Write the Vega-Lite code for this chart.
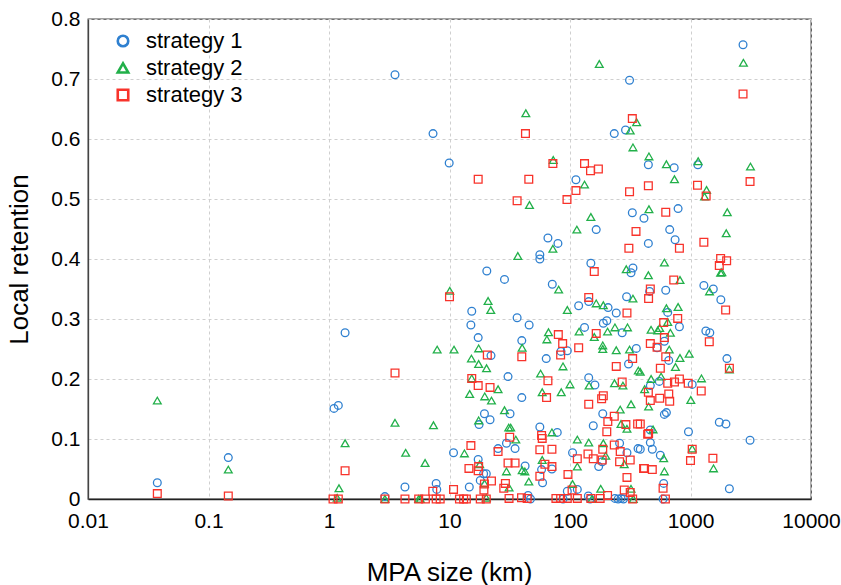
{
  "$schema": "https://vega.github.io/schema/vega-lite/v6.json",
  "autosize": {"type": "none"},
  "padding": {"left": 88, "top": 19, "right": 30, "bottom": 86},
  "width": 723,
  "height": 480,
  "background": "white",
  "config": {
    "font": "Liberation Sans",
    "view": {"stroke": "#444", "strokeWidth": 1.3}
  },
  "datasets": {
    "pts": [
      {"s":"strategy 1","x":0.0376,"y":0.027},{"s":"strategy 1","x":0.146,"y":0.069},{"s":"strategy 1","x":1.10,"y":0.151},{"s":"strategy 1","x":1.195,"y":0.156},{"s":"strategy 1","x":1.36,"y":0.277},{"s":"strategy 1","x":2.91,"y":0.004},{"s":"strategy 1","x":3.53,"y":0.707},{"s":"strategy 1","x":4.27,"y":0.020},{"s":"strategy 1","x":7.3,"y":0.609},{"s":"strategy 1","x":7.75,"y":0.026},{"s":"strategy 1","x":7.84,"y":0.016},{"s":"strategy 1","x":9.94,"y":0.560},{"s":"strategy 1","x":10.8,"y":0.077},{"s":"strategy 1","x":14.6,"y":0.020},{"s":"strategy 1","x":15.3,"y":0.313},{"s":"strategy 1","x":15.05,"y":0.290},{"s":"strategy 1","x":20.4,"y":0.380},{"s":"strategy 1","x":17.3,"y":0.269},{"s":"strategy 1","x":22.1,"y":0.239},{"s":"strategy 1","x":19.5,"y":0.142},{"s":"strategy 1","x":21.7,"y":0.132},{"s":"strategy 1","x":17.6,"y":0.124},{"s":"strategy 1","x":17.3,"y":0.066},{"s":"strategy 1","x":19.2,"y":0.042},{"s":"strategy 1","x":20.2,"y":0.042},{"s":"strategy 1","x":18.0,"y":0.031},{"s":"strategy 1","x":25.3,"y":0.084},{"s":"strategy 1","x":312,"y":0.698},{"s":"strategy 1","x":289,"y":0.615},{"s":"strategy 1","x":233,"y":0.609},{"s":"strategy 1","x":447,"y":0.557},{"s":"strategy 1","x":112,"y":0.532},{"s":"strategy 1","x":329,"y":0.477},{"s":"strategy 1","x":411,"y":0.468},{"s":"strategy 1","x":165,"y":0.449},{"s":"strategy 1","x":65.6,"y":0.435},{"s":"strategy 1","x":79.4,"y":0.426},{"s":"strategy 1","x":447,"y":0.426},{"s":"strategy 1","x":56.2,"y":0.407},{"s":"strategy 1","x":56.2,"y":0.400},{"s":"strategy 1","x":149,"y":0.393},{"s":"strategy 1","x":333,"y":0.385},{"s":"strategy 1","x":321,"y":0.377},{"s":"strategy 1","x":28.6,"y":0.366},{"s":"strategy 1","x":71.3,"y":0.358},{"s":"strategy 1","x":143,"y":0.329},{"s":"strategy 1","x":207,"y":0.319},{"s":"strategy 1","x":242,"y":0.310},{"s":"strategy 1","x":295,"y":0.337},{"s":"strategy 1","x":36.4,"y":0.302},{"s":"strategy 1","x":45.8,"y":0.290},{"s":"strategy 1","x":118,"y":0.322},{"s":"strategy 1","x":132,"y":0.286},{"s":"strategy 1","x":189,"y":0.293},{"s":"strategy 1","x":202,"y":0.297},{"s":"strategy 1","x":271,"y":0.277},{"s":"strategy 1","x":39.8,"y":0.264},{"s":"strategy 1","x":355,"y":0.251},{"s":"strategy 1","x":95,"y":0.247},{"s":"strategy 1","x":84.1,"y":0.246},{"s":"strategy 1","x":63.5,"y":0.234},{"s":"strategy 1","x":306,"y":0.225},{"s":"strategy 1","x":30.6,"y":0.204},{"s":"strategy 1","x":143,"y":0.202},{"s":"strategy 1","x":161,"y":0.190},{"s":"strategy 1","x":39.8,"y":0.169},{"s":"strategy 1","x":31.8,"y":0.142},{"s":"strategy 1","x":187,"y":0.142},{"s":"strategy 1","x":156,"y":0.122},{"s":"strategy 1","x":56.2,"y":0.120},{"s":"strategy 1","x":78.4,"y":0.111},{"s":"strategy 1","x":29.7,"y":0.093},{"s":"strategy 1","x":35.0,"y":0.084},{"s":"strategy 1","x":258,"y":0.093},{"s":"strategy 1","x":297,"y":0.077},{"s":"strategy 1","x":367,"y":0.084},{"s":"strategy 1","x":105,"y":0.077},{"s":"strategy 1","x":185,"y":0.062},{"s":"strategy 1","x":42.4,"y":0.055},{"s":"strategy 1","x":70.8,"y":0.050},{"s":"strategy 1","x":173,"y":0.054},{"s":"strategy 1","x":58.1,"y":0.049},{"s":"strategy 1","x":59.2,"y":0.027},{"s":"strategy 1","x":115,"y":0.016},{"s":"strategy 1","x":95,"y":0.013},{"s":"strategy 1","x":236,"y":0.001},{"s":"strategy 1","x":265,"y":0.001},{"s":"strategy 1","x":44.9,"y":0.006},{"s":"strategy 1","x":142,"y":0.005},{"s":"strategy 1","x":2729,"y":0.757},{"s":"strategy 1","x":1151,"y":0.557},{"s":"strategy 1","x":732,"y":0.552},{"s":"strategy 1","x":789,"y":0.484},{"s":"strategy 1","x":672,"y":0.449},{"s":"strategy 1","x":745,"y":0.432},{"s":"strategy 1","x":1291,"y":0.356},{"s":"strategy 1","x":1546,"y":0.350},{"s":"strategy 1","x":458,"y":0.346},{"s":"strategy 1","x":623,"y":0.348},{"s":"strategy 1","x":1786,"y":0.332},{"s":"strategy 1","x":647,"y":0.311},{"s":"strategy 1","x":809,"y":0.287},{"s":"strategy 1","x":607,"y":0.263},{"s":"strategy 1","x":1341,"y":0.280},{"s":"strategy 1","x":1446,"y":0.277},{"s":"strategy 1","x":528,"y":0.252},{"s":"strategy 1","x":660,"y":0.231},{"s":"strategy 1","x":2006,"y":0.234},{"s":"strategy 1","x":551,"y":0.196},{"s":"strategy 1","x":464,"y":0.189},{"s":"strategy 1","x":1033,"y":0.191},{"s":"strategy 1","x":607,"y":0.141},{"s":"strategy 1","x":631,"y":0.144},{"s":"strategy 1","x":1734,"y":0.128},{"s":"strategy 1","x":1968,"y":0.125},{"s":"strategy 1","x":464,"y":0.115},{"s":"strategy 1","x":962,"y":0.112},{"s":"strategy 1","x":3120,"y":0.098},{"s":"strategy 1","x":464,"y":0.094},{"s":"strategy 1","x":482,"y":0.083},{"s":"strategy 1","x":383,"y":0.083},{"s":"strategy 1","x":562,"y":0.073},{"s":"strategy 1","x":599,"y":0.026},{"s":"strategy 1","x":2102,"y":0.017},{"s":"strategy 1","x":592,"y":0.0},{"s":"strategy 1","x":47,"y":0.0},{"s":"strategy 1","x":87.5,"y":0.0},{"s":"strategy 1","x":147,"y":0.0},{"s":"strategy 1","x":251,"y":0.0},{"s":"strategy 1","x":278,"y":0.0},
      {"s":"strategy 2","x":0.0376,"y":0.164},{"s":"strategy 2","x":0.146,"y":0.049},{"s":"strategy 2","x":1.36,"y":0.093},{"s":"strategy 2","x":1.21,"y":0.018},{"s":"strategy 2","x":1.17,"y":0.002},{"s":"strategy 2","x":3.53,"y":0.127},{"s":"strategy 2","x":2.91,"y":0.0},{"s":"strategy 2","x":4.33,"y":0.077},{"s":"strategy 2","x":6.27,"y":0.060},{"s":"strategy 2","x":5.55,"y":0.0},{"s":"strategy 2","x":5.73,"y":0.0},{"s":"strategy 2","x":7.36,"y":0.123},{"s":"strategy 2","x":7.9,"y":0.249},{"s":"strategy 2","x":10.06,"y":0.347},{"s":"strategy 2","x":10.9,"y":0.249},{"s":"strategy 2","x":13.3,"y":0.076},{"s":"strategy 2","x":14.7,"y":0.175},{"s":"strategy 2","x":15.3,"y":0.201},{"s":"strategy 2","x":19.6,"y":0.171},{"s":"strategy 2","x":22.3,"y":0.164},{"s":"strategy 2","x":25.3,"y":0.183},{"s":"strategy 2","x":20.9,"y":0.330},{"s":"strategy 2","x":22.0,"y":0.315},{"s":"strategy 2","x":17.45,"y":0.251},{"s":"strategy 2","x":15.2,"y":0.234},{"s":"strategy 2","x":17.45,"y":0.225},{"s":"strategy 2","x":20.3,"y":0.218},{"s":"strategy 2","x":17.45,"y":0.131},{"s":"strategy 2","x":17.8,"y":0.058},{"s":"strategy 2","x":19.5,"y":0.026},{"s":"strategy 2","x":20.2,"y":0.002},{"s":"strategy 2","x":175,"y":0.725},{"s":"strategy 2","x":43,"y":0.643},{"s":"strategy 2","x":357,"y":0.628},{"s":"strategy 2","x":316,"y":0.614},{"s":"strategy 2","x":333,"y":0.586},{"s":"strategy 2","x":452,"y":0.571},{"s":"strategy 2","x":72.6,"y":0.565},{"s":"strategy 2","x":132,"y":0.524},{"s":"strategy 2","x":46.1,"y":0.490},{"s":"strategy 2","x":452,"y":0.483},{"s":"strategy 2","x":149,"y":0.470},{"s":"strategy 2","x":114,"y":0.449},{"s":"strategy 2","x":72.1,"y":0.417},{"s":"strategy 2","x":36.9,"y":0.405},{"s":"strategy 2","x":293,"y":0.383},{"s":"strategy 2","x":447,"y":0.373},{"s":"strategy 2","x":80.5,"y":0.349},{"s":"strategy 2","x":165,"y":0.326},{"s":"strategy 2","x":189,"y":0.323},{"s":"strategy 2","x":333,"y":0.334},{"s":"strategy 2","x":95,"y":0.315},{"s":"strategy 2","x":236,"y":0.286},{"s":"strategy 2","x":300,"y":0.286},{"s":"strategy 2","x":119,"y":0.279},{"s":"strategy 2","x":159,"y":0.270},{"s":"strategy 2","x":205,"y":0.279},{"s":"strategy 2","x":66.3,"y":0.278},{"s":"strategy 2","x":64.3,"y":0.266},{"s":"strategy 2","x":40.1,"y":0.252},{"s":"strategy 2","x":187,"y":0.256},{"s":"strategy 2","x":187,"y":0.250},{"s":"strategy 2","x":242,"y":0.248},{"s":"strategy 2","x":312,"y":0.249},{"s":"strategy 2","x":369,"y":0.214},{"s":"strategy 2","x":87.5,"y":0.221},{"s":"strategy 2","x":57,"y":0.209},{"s":"strategy 2","x":100,"y":0.191},{"s":"strategy 2","x":144,"y":0.189},{"s":"strategy 2","x":234,"y":0.193},{"s":"strategy 2","x":275,"y":0.189},{"s":"strategy 2","x":416,"y":0.183},{"s":"strategy 2","x":58.8,"y":0.178},{"s":"strategy 2","x":84.6,"y":0.178},{"s":"strategy 2","x":321,"y":0.158},{"s":"strategy 2","x":449,"y":0.154},{"s":"strategy 2","x":28.6,"y":0.148},{"s":"strategy 2","x":261,"y":0.149},{"s":"strategy 2","x":265,"y":0.125},{"s":"strategy 2","x":297,"y":0.117},{"s":"strategy 2","x":31,"y":0.119},{"s":"strategy 2","x":32.2,"y":0.119},{"s":"strategy 2","x":70.8,"y":0.111},{"s":"strategy 2","x":35.5,"y":0.099},{"s":"strategy 2","x":115,"y":0.099},{"s":"strategy 2","x":143,"y":0.094},{"s":"strategy 2","x":189,"y":0.093},{"s":"strategy 2","x":198,"y":0.072},{"s":"strategy 2","x":58.8,"y":0.065},{"s":"strategy 2","x":282,"y":0.058},{"s":"strategy 2","x":115,"y":0.054},{"s":"strategy 2","x":40.1,"y":0.048},{"s":"strategy 2","x":42.2,"y":0.046},{"s":"strategy 2","x":29.7,"y":0.046},{"s":"strategy 2","x":45.5,"y":0.029},{"s":"strategy 2","x":105,"y":0.025},{"s":"strategy 2","x":31.2,"y":0.019},{"s":"strategy 2","x":180,"y":0.017},{"s":"strategy 2","x":321,"y":0.017},{"s":"strategy 2","x":152,"y":0.0},{"s":"strategy 2","x":335,"y":0.0},{"s":"strategy 2","x":2750,"y":0.727},{"s":"strategy 2","x":631,"y":0.558},{"s":"strategy 2","x":736,"y":0.533},{"s":"strategy 2","x":1158,"y":0.563},{"s":"strategy 2","x":3145,"y":0.554},{"s":"strategy 2","x":1359,"y":0.515},{"s":"strategy 2","x":1308,"y":0.504},{"s":"strategy 2","x":2019,"y":0.478},{"s":"strategy 2","x":1980,"y":0.443},{"s":"strategy 2","x":607,"y":0.394},{"s":"strategy 2","x":1778,"y":0.377},{"s":"strategy 2","x":1820,"y":0.378},{"s":"strategy 2","x":818,"y":0.365},{"s":"strategy 2","x":1438,"y":0.346},{"s":"strategy 2","x":631,"y":0.318},{"s":"strategy 2","x":789,"y":0.320},{"s":"strategy 2","x":647,"y":0.295},{"s":"strategy 2","x":471,"y":0.282},{"s":"strategy 2","x":534,"y":0.281},{"s":"strategy 2","x":555,"y":0.285},{"s":"strategy 2","x":681,"y":0.277},{"s":"strategy 2","x":666,"y":0.249},{"s":"strategy 2","x":975,"y":0.242},{"s":"strategy 2","x":818,"y":0.235},{"s":"strategy 2","x":750,"y":0.220},{"s":"strategy 2","x":2102,"y":0.216},{"s":"strategy 2","x":383,"y":0.212},{"s":"strategy 2","x":570,"y":0.204},{"s":"strategy 2","x":1233,"y":0.201},{"s":"strategy 2","x":471,"y":0.200},{"s":"strategy 2","x":1006,"y":0.165},{"s":"strategy 2","x":489,"y":0.116},{"s":"strategy 2","x":1033,"y":0.084},{"s":"strategy 2","x":599,"y":0.068},{"s":"strategy 2","x":1552,"y":0.051},{"s":"strategy 2","x":607,"y":0.046},
      {"s":"strategy 3","x":0.0376,"y":0.009},{"s":"strategy 3","x":0.146,"y":0.005},{"s":"strategy 3","x":1.36,"y":0.047},{"s":"strategy 3","x":1.08,"y":0.0},{"s":"strategy 3","x":1.195,"y":0.0},{"s":"strategy 3","x":3.53,"y":0.210},{"s":"strategy 3","x":2.91,"y":0.0},{"s":"strategy 3","x":4.27,"y":0.0},{"s":"strategy 3","x":5.55,"y":0.0},{"s":"strategy 3","x":6.31,"y":0.0},{"s":"strategy 3","x":7.26,"y":0.013},{"s":"strategy 3","x":7.75,"y":0.0},{"s":"strategy 3","x":8.37,"y":0.0},{"s":"strategy 3","x":10,"y":0.337},{"s":"strategy 3","x":10.8,"y":0.016},{"s":"strategy 3","x":12.1,"y":0.0},{"s":"strategy 3","x":13.1,"y":0.0},{"s":"strategy 3","x":13.8,"y":0.0},{"s":"strategy 3","x":14.5,"y":0.051},{"s":"strategy 3","x":15.05,"y":0.089},{"s":"strategy 3","x":15.3,"y":0.201},{"s":"strategy 3","x":17.3,"y":0.189},{"s":"strategy 3","x":21.7,"y":0.186},{"s":"strategy 3","x":20.6,"y":0.240},{"s":"strategy 3","x":17.3,"y":0.047},{"s":"strategy 3","x":17.45,"y":0.054},{"s":"strategy 3","x":22.3,"y":0.030},{"s":"strategy 3","x":19.5,"y":0.025},{"s":"strategy 3","x":19.3,"y":0.015},{"s":"strategy 3","x":18.0,"y":0.0},{"s":"strategy 3","x":20.2,"y":0.0},{"s":"strategy 3","x":25.3,"y":0.079},{"s":"strategy 3","x":17.3,"y":0.533},{"s":"strategy 3","x":42.7,"y":0.609},{"s":"strategy 3","x":329,"y":0.634},{"s":"strategy 3","x":447,"y":0.522},{"s":"strategy 3","x":72.1,"y":0.559},{"s":"strategy 3","x":132,"y":0.559},{"s":"strategy 3","x":148,"y":0.547},{"s":"strategy 3","x":172,"y":0.550},{"s":"strategy 3","x":45.5,"y":0.533},{"s":"strategy 3","x":112,"y":0.514},{"s":"strategy 3","x":312,"y":0.512},{"s":"strategy 3","x":94.4,"y":0.499},{"s":"strategy 3","x":36.4,"y":0.497},{"s":"strategy 3","x":353,"y":0.446},{"s":"strategy 3","x":308,"y":0.418},{"s":"strategy 3","x":159,"y":0.379},{"s":"strategy 3","x":143,"y":0.336},{"s":"strategy 3","x":297,"y":0.310},{"s":"strategy 3","x":165,"y":0.276},{"s":"strategy 3","x":80,"y":0.274},{"s":"strategy 3","x":86.9,"y":0.259},{"s":"strategy 3","x":118,"y":0.252},{"s":"strategy 3","x":83.6,"y":0.240},{"s":"strategy 3","x":39.8,"y":0.237},{"s":"strategy 3","x":331,"y":0.234},{"s":"strategy 3","x":242,"y":0.221},{"s":"strategy 3","x":65.6,"y":0.197},{"s":"strategy 3","x":271,"y":0.195},{"s":"strategy 3","x":447,"y":0.178},{"s":"strategy 3","x":63.9,"y":0.169},{"s":"strategy 3","x":189,"y":0.172},{"s":"strategy 3","x":183,"y":0.167},{"s":"strategy 3","x":143,"y":0.158},{"s":"strategy 3","x":233,"y":0.138},{"s":"strategy 3","x":206,"y":0.129},{"s":"strategy 3","x":291,"y":0.124},{"s":"strategy 3","x":364,"y":0.125},{"s":"strategy 3","x":202,"y":0.112},{"s":"strategy 3","x":441,"y":0.108},{"s":"strategy 3","x":58.1,"y":0.106},{"s":"strategy 3","x":58.8,"y":0.101},{"s":"strategy 3","x":31.6,"y":0.103},{"s":"strategy 3","x":56.2,"y":0.082},{"s":"strategy 3","x":70.8,"y":0.083},{"s":"strategy 3","x":187,"y":0.083},{"s":"strategy 3","x":233,"y":0.090},{"s":"strategy 3","x":261,"y":0.079},{"s":"strategy 3","x":141,"y":0.075},{"s":"strategy 3","x":115,"y":0.067},{"s":"strategy 3","x":156,"y":0.067},{"s":"strategy 3","x":185,"y":0.065},{"s":"strategy 3","x":316,"y":0.065},{"s":"strategy 3","x":258,"y":0.062},{"s":"strategy 3","x":30.6,"y":0.060},{"s":"strategy 3","x":35,"y":0.060},{"s":"strategy 3","x":61.9,"y":0.058},{"s":"strategy 3","x":70.8,"y":0.054},{"s":"strategy 3","x":408,"y":0.051},{"s":"strategy 3","x":297,"y":0.036},{"s":"strategy 3","x":56.2,"y":0.038},{"s":"strategy 3","x":96.2,"y":0.041},{"s":"strategy 3","x":29.1,"y":0.026},{"s":"strategy 3","x":28.2,"y":0.018},{"s":"strategy 3","x":104,"y":0.015},{"s":"strategy 3","x":282,"y":0.015},{"s":"strategy 3","x":316,"y":0.011},{"s":"strategy 3","x":205,"y":0.006},{"s":"strategy 3","x":31.2,"y":0.001},{"s":"strategy 3","x":39.6,"y":0.002},{"s":"strategy 3","x":44.1,"y":0.001},{"s":"strategy 3","x":76.4,"y":0.001},{"s":"strategy 3","x":83.6,"y":0.001},{"s":"strategy 3","x":95,"y":0.001},{"s":"strategy 3","x":115,"y":0.001},{"s":"strategy 3","x":149,"y":0.001},{"s":"strategy 3","x":178,"y":0.001},{"s":"strategy 3","x":331,"y":0.0},{"s":"strategy 3","x":2729,"y":0.675},{"s":"strategy 3","x":1143,"y":0.523},{"s":"strategy 3","x":3120,"y":0.529},{"s":"strategy 3","x":1349,"y":0.505},{"s":"strategy 3","x":623,"y":0.478},{"s":"strategy 3","x":809,"y":0.418},{"s":"strategy 3","x":1291,"y":0.428},{"s":"strategy 3","x":1778,"y":0.401},{"s":"strategy 3","x":1995,"y":0.397},{"s":"strategy 3","x":1734,"y":0.389},{"s":"strategy 3","x":726,"y":0.365},{"s":"strategy 3","x":464,"y":0.350},{"s":"strategy 3","x":449,"y":0.334},{"s":"strategy 3","x":1957,"y":0.315},{"s":"strategy 3","x":783,"y":0.301},{"s":"strategy 3","x":599,"y":0.294},{"s":"strategy 3","x":607,"y":0.269},{"s":"strategy 3","x":464,"y":0.259},{"s":"strategy 3","x":1432,"y":0.262},{"s":"strategy 3","x":528,"y":0.253},{"s":"strategy 3","x":623,"y":0.237},{"s":"strategy 3","x":562,"y":0.218},{"s":"strategy 3","x":2102,"y":0.218},{"s":"strategy 3","x":809,"y":0.200},{"s":"strategy 3","x":736,"y":0.195},{"s":"strategy 3","x":647,"y":0.193},{"s":"strategy 3","x":957,"y":0.193},{"s":"strategy 3","x":1228,"y":0.180},{"s":"strategy 3","x":660,"y":0.175},{"s":"strategy 3","x":555,"y":0.168},{"s":"strategy 3","x":672,"y":0.163},{"s":"strategy 3","x":464,"y":0.164},{"s":"strategy 3","x":383,"y":0.125},{"s":"strategy 3","x":449,"y":0.109},{"s":"strategy 3","x":1033,"y":0.083},{"s":"strategy 3","x":1000,"y":0.064},{"s":"strategy 3","x":1534,"y":0.068},{"s":"strategy 3","x":414,"y":0.051},{"s":"strategy 3","x":482,"y":0.049},{"s":"strategy 3","x":592,"y":0.018},{"s":"strategy 3","x":619,"y":0.0}
    ]
  },
  "layer": [
    {
      "data": {"name": "pts"},
      "mark": {"type": "point", "filled": false, "strokeWidth": 1.3, "size": 60, "opacity": 1},
      "encoding": {
        "x": {
          "field": "x", "type": "quantitative",
          "scale": {"type": "log", "domain": [0.01, 10000], "nice": false},
          "axis": {
            "title": "MPA size (km)",
            "values": [0.01, 0.1, 1, 10, 100, 1000, 10000],
            "format": "~g",
            "grid": true, "gridColor": "#cfcfcf", "gridDash": [3, 3], "gridWidth": 1,
            "ticks": false, "labelPadding": 11,
            "labelFontSize": 21, "labelColor": "#000", "labelFont": "Liberation Sans",
            "labelFlush": false, "labelOverlap": false,
            "domainColor": "#222", "domainWidth": 1.6,
            "titleFontSize": 26, "titleFontWeight": "normal", "titleColor": "#000", "titleFont": "Liberation Sans",
            "titleX": 361, "titleY": 73, "titleBaseline": "middle", "titleAnchor": "middle"
          }
        },
        "y": {
          "field": "y", "type": "quantitative",
          "scale": {"domain": [0, 0.8], "nice": false, "zero": false},
          "axis": {
            "title": "Local retention",
            "values": [0, 0.1, 0.2, 0.3, 0.4, 0.5, 0.6, 0.7, 0.8],
            "format": "~g",
            "grid": true, "gridColor": "#cfcfcf", "gridDash": [3, 3], "gridWidth": 1,
            "ticks": false, "labelPadding": 8,
            "labelFontSize": 21, "labelColor": "#000", "labelFont": "Liberation Sans",
            "labelFlush": false, "labelOverlap": false,
            "domainColor": "#444", "domainWidth": 1.3,
            "titleFontSize": 26, "titleFontWeight": "normal", "titleColor": "#000", "titleFont": "Liberation Sans",
            "titleX": -69, "titleY": 240, "titleAngle": -90, "titleBaseline": "middle", "titleAlign": "center"
          }
        },
        "shape": {
          "field": "s", "type": "nominal",
          "scale": {"domain": ["strategy 1", "strategy 2", "strategy 3"], "range": ["circle", "triangle-up", "square"]},
          "legend": null
        },
        "color": {
          "field": "s", "type": "nominal",
          "scale": {"domain": ["strategy 1", "strategy 2", "strategy 3"], "range": ["#2f80d0", "#22b04a", "#f8332b"]},
          "legend": {
            "title": null, "orient": "none", "legendX": 24, "legendY": 11,
            "labelFontSize": 22, "labelColor": "#000", "labelFont": "Liberation Sans",
            "symbolSize": 110, "symbolStrokeWidth": 2.6, "symbolFillColor": "transparent",
            "rowPadding": 5, "labelOffset": 12,
            "symbolType": "circle"
          }
        }
      }
    },
    {
      "mark": {"type": "rule", "color": "#000", "strokeWidth": 2.4, "strokeDash": [5, 3.5]},
      "encoding": {"y": {"datum": 0.4}}
    }
  ]
}
